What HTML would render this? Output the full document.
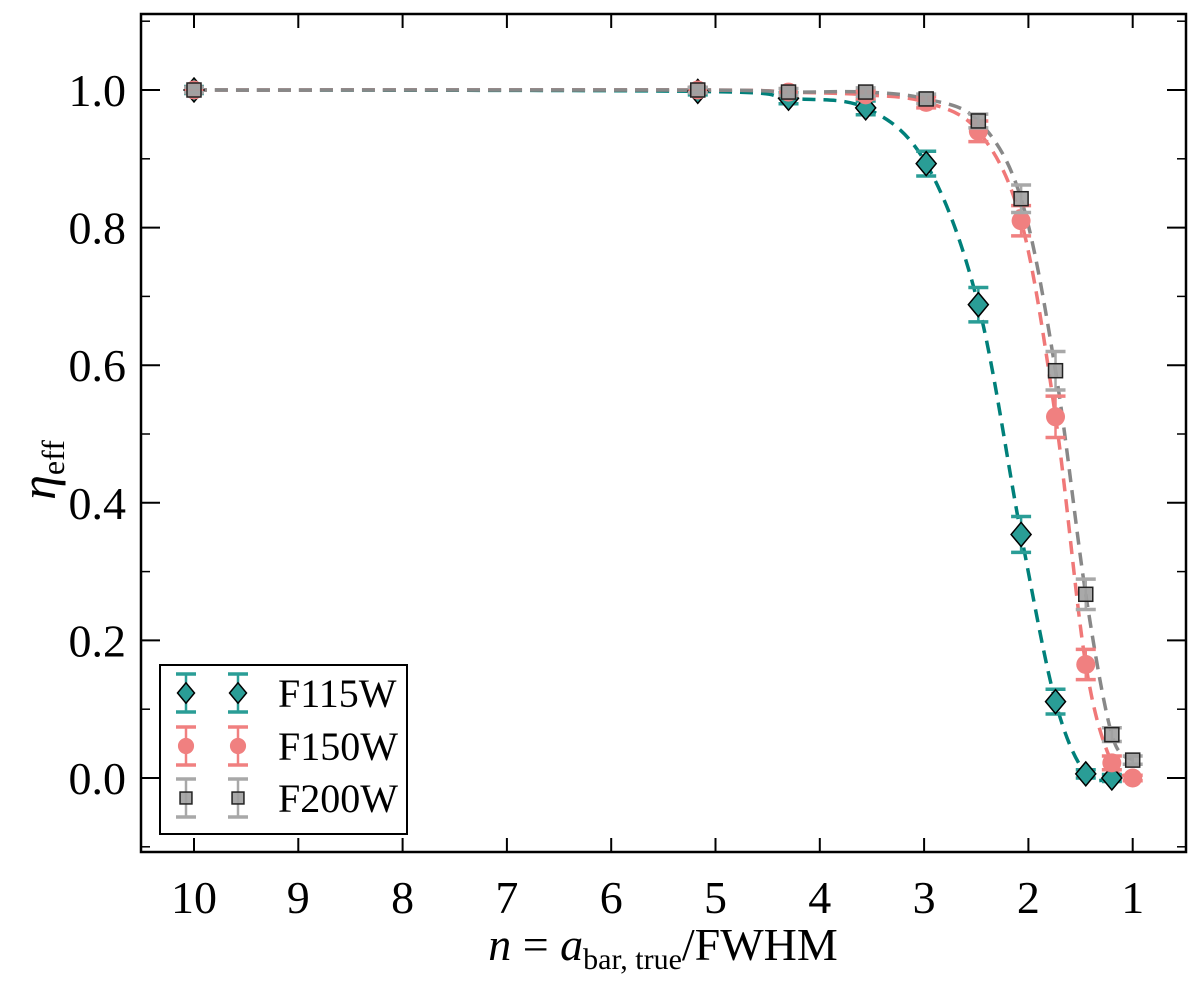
<!DOCTYPE html>
<html><head><meta charset="utf-8"><style>
body{margin:0;background:#fff}
svg{display:block}
text{font-family:"Liberation Serif","DejaVu Serif",serif}
</style></head><body>
<svg id="chart" width="1200" height="986" viewBox="0 0 1200 986">
<rect x="0" y="0" width="1200" height="986" fill="#fff"/>
<g id="curves"></g>
<g id="marks"></g>
<rect x="141" y="14" width="1045" height="838" fill="none" stroke="#000" stroke-width="2.5"/>
<g id="axes"></g>
<g id="legend">
<rect x="160" y="665" width="247" height="169" fill="#fff" stroke="#000" stroke-width="2"/>
</g>
<text x="663" y="960" font-size="46" text-anchor="middle"><tspan font-style="italic">n</tspan> = <tspan font-style="italic">a</tspan><tspan font-size="30" dy="9">bar, true</tspan><tspan dy="-9">/FWHM</tspan></text>
<text transform="translate(55,470) rotate(-90)" font-size="50" text-anchor="middle"><tspan font-style="italic">η</tspan><tspan font-size="32" dy="9">eff</tspan></text>
</svg>
<script>
const nVals = [10, 5.17, 4.30, 3.56, 2.98, 2.48, 2.07, 1.74, 1.45, 1.20, 1.0];
const f115 = [1.0, 0.998, 0.988, 0.974, 0.893, 0.688, 0.354, 0.111, 0.006, 0.0];
const f115Err = [0.005, 0.005, 0.008, 0.01, 0.018, 0.025, 0.026, 0.018, 0.006, 0.005];
const f150 = [1.0, 1.0, 0.997, 0.993, 0.982, 0.940, 0.810, 0.525, 0.165, 0.022, 0.0];
const f150Err = [0.004, 0.004, 0.005, 0.006, 0.008, 0.015, 0.022, 0.03, 0.022, 0.01, 0.004];
const f200 = [1.0, 1.0, 0.997, 0.997, 0.987, 0.955, 0.842, 0.592, 0.267, 0.063, 0.026];
const f200Err = [0.004, 0.004, 0.005, 0.006, 0.007, 0.01, 0.02, 0.028, 0.022, 0.01, 0.006];
const xTicks = [10, 9, 8, 7, 6, 5, 4, 3, 2, 1];
const yTicks = [0.0, 0.2, 0.4, 0.6, 0.8, 1.0];
const yMinorTicks = [-0.1, 0.1, 0.3, 0.5, 0.7, 0.9, 1.1];

const NS = "http://www.w3.org/2000/svg";
function X(n){ return 194 + (10 - n) * 104.3; }
function Y(v){ return 778 - v * 688; }
function mk(tag, attrs, parent){
  const e = document.createElementNS(NS, tag);
  for (const k in attrs) e.setAttribute(k, attrs[k]);
  parent.appendChild(e); return e;
}
const axes = document.getElementById('axes');
xTicks.forEach(t=>{
  const g = mk('g', {}, axes);
  
  
  mk('line', {x1:X(t), x2:X(t), y1:852, y2:838, stroke:'#000','stroke-width':2}, g);
  mk('line', {x1:X(t), x2:X(t), y1:14, y2:28, stroke:'#000','stroke-width':2}, g);
  const tx = mk('text', {x:X(t), y:913, 'font-size':46, 'text-anchor':'middle'}, g);
  tx.textContent = t;
});
yTicks.forEach(t=>{
  const g = mk('g', {}, axes);
  
  
  mk('line', {x1:141, x2:160, y1:Y(t), y2:Y(t), stroke:'#000','stroke-width':2}, g);
  mk('line', {x1:1186, x2:1167, y1:Y(t), y2:Y(t), stroke:'#000','stroke-width':2}, g);
  const tx = mk('text', {x:126, y:Y(t)+16, 'font-size':46, 'text-anchor':'end'}, g);
  tx.textContent = t.toFixed(1);
});
yMinorTicks.forEach(t=>{
  const g = mk('g', {}, axes);
  
  
  mk('line', {x1:141, x2:150, y1:Y(t), y2:Y(t), stroke:'#000','stroke-width':1.5}, g);
  mk('line', {x1:1186, x2:1177, y1:Y(t), y2:Y(t), stroke:'#000','stroke-width':1.5}, g);
});

function smoothPath(xs, ys){
  const p = xs.map((n,i)=>[X(n), Y(ys[i])]);
  let d = `M${p[0][0]},${p[0][1]}`;
  for (let i=0;i<p.length-1;i++){
    const p0 = p[Math.max(0,i-1)], p1 = p[i], p2 = p[i+1], p3 = p[Math.min(p.length-1,i+2)];
    const c1 = [p1[0]+(p2[0]-p0[0])/6, p1[1]+(p2[1]-p0[1])/6];
    const c2 = [p2[0]-(p3[0]-p1[0])/6, p2[1]-(p3[1]-p1[1])/6];
    d += ` C${c1[0]},${c1[1]} ${c2[0]},${c2[1]} ${p2[0]},${p2[1]}`;
  }
  return d;
}
const series = [
  {name:'f115w', vals:f115, err:f115Err, line:'#00807a', err_c:'#2a9d96', fill:'#2a9d96', shape:'diamond'},
  {name:'f150w', vals:f150, err:f150Err, line:'#f07878', err_c:'#f08080', fill:'#f08080', shape:'circle'},
  {name:'f200w', vals:f200, err:f200Err, line:'#888888', err_c:'#a8a8a8', fill:'#a0a0a0', shape:'square'}
];
const curves = document.getElementById('curves');
const marks = document.getElementById('marks');
function marker(shape, cx, cy, fill, parent, s){
  s = s || 1;
  if (shape==='diamond') return mk('path', {d:`M${cx},${cy-12*s} L${cx+10*s},${cy} L${cx},${cy+12*s} L${cx-10*s},${cy} Z`, fill:fill, stroke:'#000','stroke-width':1.5}, parent);
  if (shape==='circle') return mk('circle', {cx:cx, cy:cy, r:9.5*s, fill:fill}, parent);
  return mk('rect', {x:cx-7*s, y:cy-7*s, width:14*s, height:14*s, fill:fill, stroke:'#222','stroke-width':1.5,'fill-opacity':0.9}, parent);
}
function errbar(cx, cy, e, color, parent){
  mk('line', {x1:cx, x2:cx, y1:cy-e, y2:cy+e, stroke:color,'stroke-width':2.5}, parent);
  mk('line', {x1:cx-10, x2:cx+10, y1:cy-e, y2:cy-e, stroke:color,'stroke-width':3.5}, parent);
  mk('line', {x1:cx-10, x2:cx+10, y1:cy+e, y2:cy+e, stroke:color,'stroke-width':3.5}, parent);
}
series.forEach(s=>{
  const xs = nVals.slice(0, s.vals.length);
  const c = mk('path', {d:smoothPath(xs, s.vals), fill:'none', stroke:s.line,'stroke-width':3.5,'stroke-dasharray':'13 8'}, curves);
  
  
});
series.forEach(s=>{
  s.vals.forEach((v,i)=>{
    const g = mk('g', {}, marks);
    
    
    const cx = X(nVals[i]), cy = Y(v);
    errbar(cx, cy, s.err[i]*688, s.err_c, g);
    marker(s.shape, cx, cy, s.fill, g);
  });
});
const legend = document.getElementById('legend');
const labels = ['F115W','F150W','F200W'];
[693, 746, 798].forEach((ly, k)=>{
  const s = series[k];
  const g = mk('g', {}, legend);
  
  
  [186, 238].forEach(lx=>{
    errbar(lx, ly, 19, s.err_c, g);
    marker(s.shape, lx, ly, s.fill, g, 0.85);
  });
  const t = mk('text', {x:278, y:ly+14, 'font-size':40}, g);
  t.textContent = labels[k];
});
</script>
</body></html>
